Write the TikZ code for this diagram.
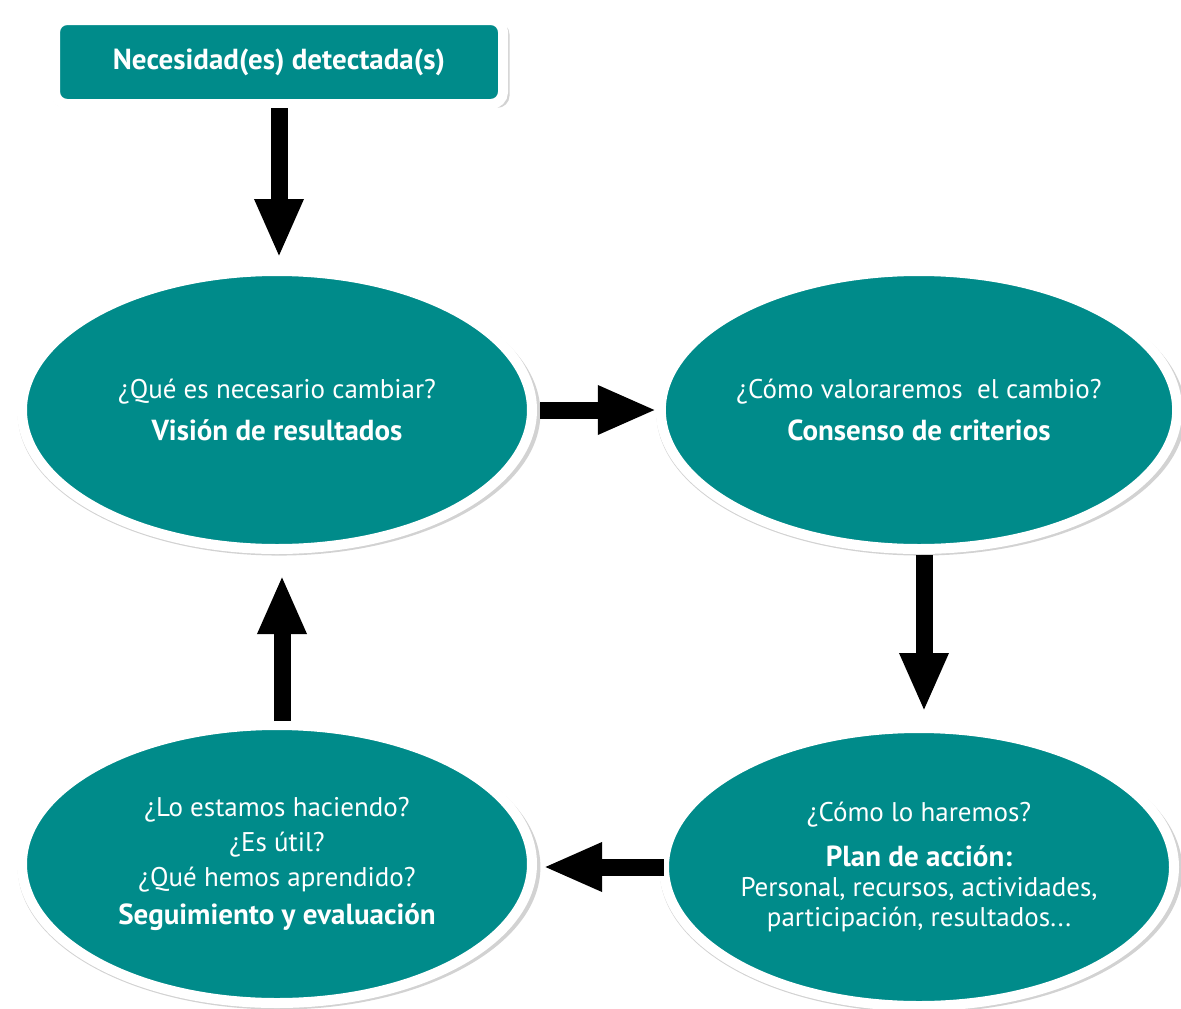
\documentclass[tikz,border=0pt]{standalone}
\usepackage{fontspec}
\setmainfont{PT Sans}
\usetikzlibrary{shapes.geometric,arrows.meta,shadows}
\definecolor{tealc}{RGB}{0,139,138}
\newcommand{\bt}[1]{{\fontsize{29}{30}\selectfont\bfseries #1}}
\begin{document}
\begin{tikzpicture}[x=1pt,y=-1pt,
  bubble/.style={ellipse, draw=white, line width=10pt, fill=tealc,
    minimum width=510pt, minimum height=278pt, inner sep=0pt, outer sep=0pt,
    text=white, align=center, font=\fontsize{27}{30}\selectfont,
    drop shadow={shadow xshift=2pt, shadow yshift=-3pt, shadow scale=1.025, opacity=0.35}},
  topbox/.style={rectangle, rounded corners=12pt, draw=white, line width=10pt, fill=tealc,
    minimum width=448pt, minimum height=84pt, inner sep=0pt, outer sep=0pt,
    text=white, font=\fontsize{29}{30}\selectfont\bfseries,
    drop shadow={shadow xshift=2pt, shadow yshift=-3pt, shadow scale=1.02, opacity=0.35}},
  bigarrow/.style={line width=17pt, -{Triangle[width=45pt,length=59pt]}}
]
\useasboundingbox (0,0) rectangle (1181,1009);
\fill[white] (0,0) rectangle (1181,1009);

\node[topbox] (need) at (279,62) {Necesidad(es) detectada(s)};
\node[bubble] (tl) at (277,410) {¿Qué es necesario cambiar?\\[12pt]\bt{Visión de resultados}};
\node[bubble] (tr) at (919,410) {¿Cómo valoraremos\ \ el cambio?\\[12pt]\bt{Consenso de criterios}};
\node[bubble] (bl) at (277,864) {¿Lo estamos haciendo?\\[5pt]¿Es útil?\\[5pt]¿Qué hemos aprendido?\\[8pt]\bt{Seguimiento y evaluación}};
\node[bubble] (br) at (919,867) {¿Cómo lo haremos?\\[15pt]\bt{Plan de acción:}\\Personal, recursos, actividades,\\participación, resultados...};

\draw[bigarrow, shorten <=4pt, shorten >=13pt] (need.south) -- (need.south |- tl.north);
\draw[bigarrow, shorten <=8pt, shorten >=4pt] (tl.east) -- (tl.east -| tr.west);
\draw[bigarrow, shorten <=6pt, shorten >=16pt] ([xshift=5pt]tr.south) -- ([xshift=5pt]tr.south |- br.north);
\draw[bigarrow, shorten <=0pt, shorten >=11pt] (br.west) -- (br.west -| bl.east);
\draw[bigarrow, shorten <=4pt, shorten >=26pt] ([xshift=5pt]bl.north) -- ([xshift=5pt]bl.north |- tl.south);
\end{tikzpicture}
\end{document}
